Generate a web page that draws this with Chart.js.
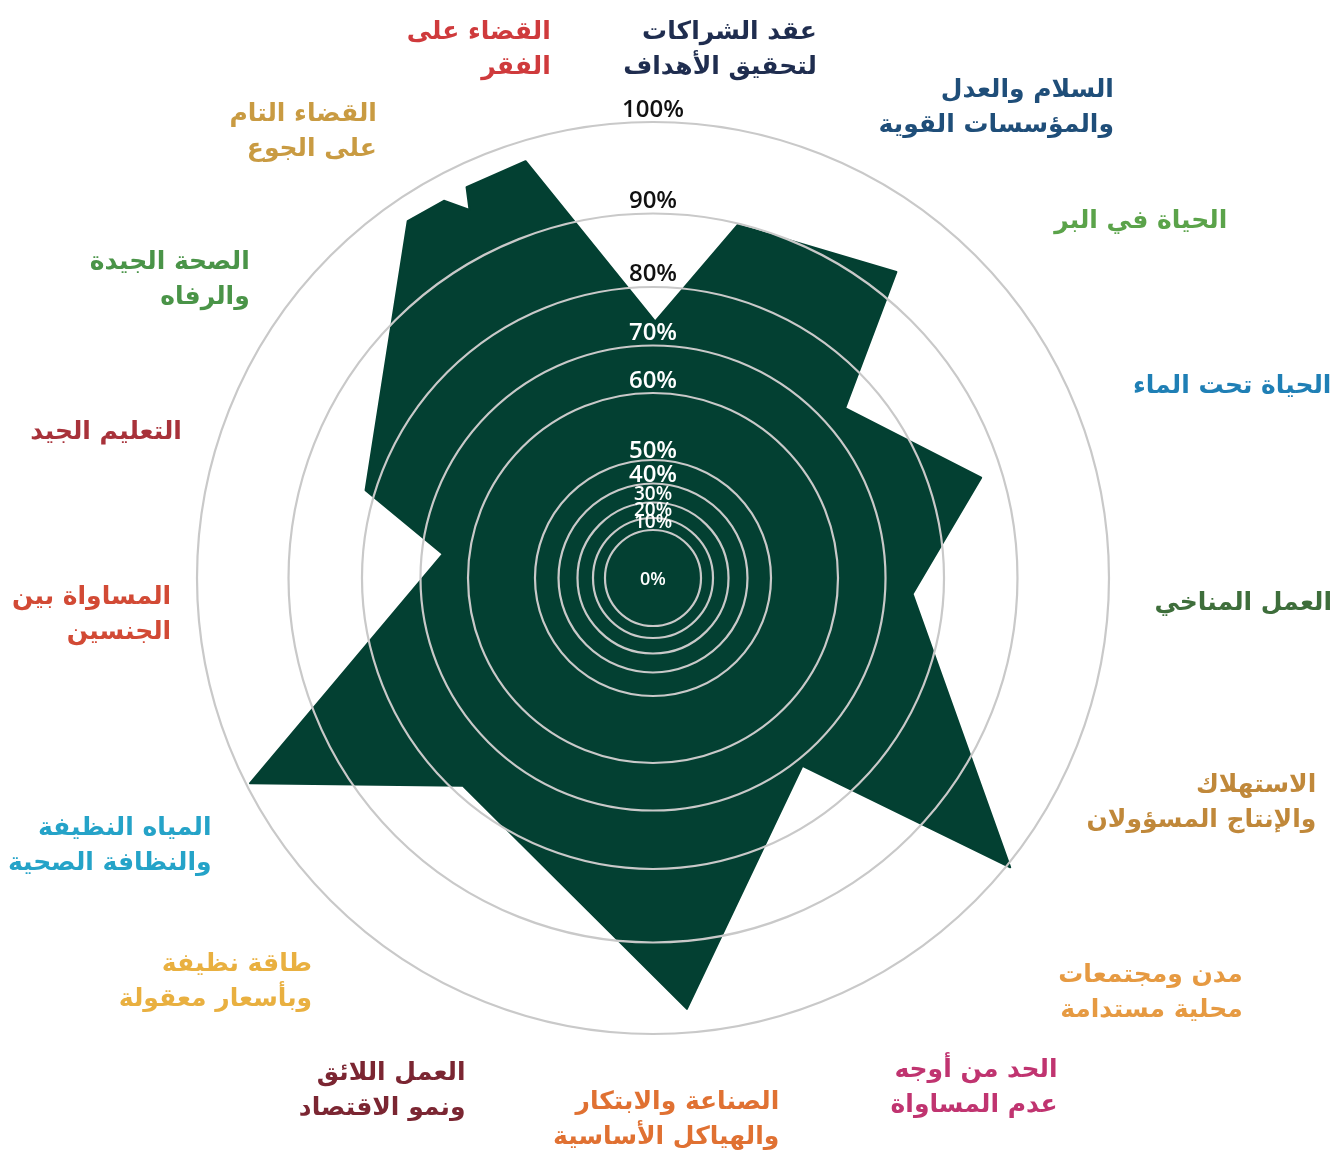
<!DOCTYPE html>
<html lang="ar">
<head>
<meta charset="utf-8">
<script src="https://cdn.jsdelivr.net/npm/chart.js@4.4.1/dist/chart.umd.min.js"></script>
<style>
  html, body { margin: 0; padding: 0; background: #ffffff; }
  #wrap { position: relative; width: 1337px; height: 1154px; }
</style>
</head>
<body>
<div id="wrap"><canvas id="chart"></canvas></div>
<script>
// ---------------- DATA ----------------
// Categories clockwise from the top (SDG 17 ... SDG 1)
const categories = [
  ['عقد الشراكات', 'لتحقيق الأهداف'],
  ['السلام والعدل', 'والمؤسسات القوية'],
  ['الحياة في البر'],
  ['الحياة تحت الماء'],
  ['العمل المناخي'],
  ['الاستهلاك', 'والإنتاج المسؤولان'],
  ['مدن ومجتمعات', 'محلية مستدامة'],
  ['الحد من أوجه', 'عدم المساواة'],
  ['الصناعة والابتكار', 'والهياكل الأساسية'],
  ['العمل اللائق', 'ونمو الاقتصاد'],
  ['طاقة نظيفة', 'وبأسعار معقولة'],
  ['المياه النظيفة', 'والنظافة الصحية'],
  ['المساواة بين', 'الجنسين'],
  ['التعليم الجيد'],
  ['الصحة الجيدة', 'والرفاه'],
  ['القضاء التام', 'على الجوع'],
  ['القضاء على', 'الفقر']
];

// Radial tick values and labels
const tickValues = [0, 10, 20, 30, 40, 50, 60, 70, 80, 90, 100];
const tickLabels = ['0%', '10%', '20%', '30%', '40%', '50%', '60%', '70%', '80%', '90%', '100%'];

// Outline of the shape: angular coordinate (degrees, clockwise from top) and value (%)
const shapeBearings = [0.6, 13.4, 38.5, 48.6, 73.1, 93.5, 129.2, 141.6, 175.7, 222.7, 243.1, 276.7, 287.0, 325.4, 331.0, 333.6, 334.7, 343.1];
const shapeValues   = [74.1, 89.8, 92.9, 74.1, 87.1, 74.7, 100.4, 71.3, 97.4, 78.4, 99.6, 65.6, 81.3, 97.5, 97.3, 95.1, 97.5, 97.8];

// ---------------- STYLE / LAYOUT ----------------
const categoryColors = ['#1f2d4f', '#1f4e79', '#5ba34a', '#1f7fb5', '#3e6e3b', '#c0883a', '#e69a42',
  '#c03470', '#e07132', '#7b2632', '#e9b040', '#25a3c8', '#d24a35', '#a8323a', '#4a9448', '#c99b42', '#cf3a3c'];
// where each category label sits (bearing in degrees, distance in px from centre)
const labelLayout = [
  [7.2, 535], [25.5, 524], [48.1, 539], [67.9, 518], [92.6, 502], [117.1, 487], [135.5, 578],
  [154.9, 560], [178.6, 539], [200.2, 543], [220.4, 526], [239.0, 515], [266.0, 483], [287.5, 494],
  [306.7, 503], [328.4, 527], [349.1, 541]
];
// ring positions as a fraction of the outer radius (non-linear radial axis)
const ringFractions = [0, 0.1053, 0.1316, 0.1656, 0.2072, 0.2588, 0.4057, 0.5099, 0.6382, 0.7993, 1];
const SHAPE_COLOR = '#034032';
const SLOT_COUNT = 720;

// ---------------- BUILD TABLE FOR THE LIBRARY ----------------
const slotLabels = Array.from({ length: SLOT_COUNT }, (_, i) => String(i * 360 / SLOT_COUNT));
const slotData = new Array(SLOT_COUNT).fill(null);
shapeBearings.forEach((b, i) => {
  slotData[Math.round(b / 360 * SLOT_COUNT) % SLOT_COUNT] = shapeValues[i];
});

function valueToFraction(v) {
  const n = tickValues.length;
  for (let i = 1; i < n; i++) {
    if (v <= tickValues[i] || i === n - 1) {
      const t = (v - tickValues[i - 1]) / (tickValues[i] - tickValues[i - 1]);
      return ringFractions[i - 1] + t * (ringFractions[i] - ringFractions[i - 1]);
    }
  }
  return 0;
}
function fractionToValue(f) {
  const n = ringFractions.length;
  for (let i = 1; i < n; i++) {
    if (f <= ringFractions[i] || i === n - 1) {
      const t = (f - ringFractions[i - 1]) / (ringFractions[i] - ringFractions[i - 1]);
      return tickValues[i - 1] + t * (tickValues[i] - tickValues[i - 1]);
    }
  }
  return 0;
}

const H = Chart.helpers;

class RingRadialScale extends Chart.RadialLinearScale {
  buildTicks() {
    this.start = this.min;
    this.end = this.max;
    return tickValues.map(v => ({ value: v }));
  }
  getDistanceFromCenterForValue(value) {
    if (value === null || value === undefined || isNaN(value)) return NaN;
    return this.drawingArea * valueToFraction(value);
  }
  getValueForDistanceFromCenter(distance) {
    return fractionToValue(distance / this.drawingArea);
  }
  drawLabels() {
    const ctx = this.ctx;
    const tickOpts = this.options.ticks;
    ctx.save();
    ctx.translate(this.xCenter, this.yCenter);
    ctx.textAlign = 'center';
    ctx.textBaseline = 'alphabetic';
    this.ticks.forEach((tick, index) => {
      const o = tickOpts.setContext(this.getContext(index));
      const font = H.toFont(o.font);
      ctx.font = font.string;
      ctx.fillStyle = o.color;
      const dist = this.getDistanceFromCenterForValue(tick.value);
      let y;
      if (tick.value === 0) y = 7;
      else y = -(dist + (tick.value >= 60 ? 5.5 : 2));
      ctx.fillText(tick.label, 0, y);
    });
    ctx.restore();
  }
}
RingRadialScale.id = 'ringRadial';
RingRadialScale.defaults = Chart.RadialLinearScale.defaults;
RingRadialScale.defaultRoutes = Chart.RadialLinearScale.defaultRoutes;
RingRadialScale.descriptors = Chart.RadialLinearScale.descriptors;
Chart.register(RingRadialScale);

const categoryLabelPlugin = {
  id: 'categoryLabels',
  afterDraw(chart) {
    const scale = chart.scales.r;
    const ctx = chart.ctx;
    ctx.save();
    ctx.font = '700 25px "DejaVu Sans"';
    ctx.textBaseline = 'middle';
    ctx.textAlign = 'right';
    const lineHeight = 35;
    categories.forEach((lines, i) => {
      const [bearing, dist] = labelLayout[i];
      const a = bearing * Math.PI / 180;
      const px = scale.xCenter + Math.sin(a) * dist;
      const py = scale.yCenter - Math.cos(a) * dist + 3;
      const w = Math.max(...lines.map(l => ctx.measureText(l).width));
      const s = Math.sin(a);
      let right;
      if (Math.abs(s) < 0.15) right = px + w / 2;
      else if (s > 0) right = px + w;
      else right = px;
      ctx.fillStyle = categoryColors[i];
      lines.forEach((l, j) => {
        ctx.fillText(l, right, py + (j - (lines.length - 1) / 2) * lineHeight);
      });
    });
    ctx.restore();
  }
};

new Chart(document.getElementById('chart'), {
  type: 'radar',
  data: {
    labels: slotLabels,
    datasets: [{
      data: slotData,
      backgroundColor: SHAPE_COLOR,
      borderColor: SHAPE_COLOR,
      borderWidth: 2,
      borderJoinStyle: 'round',
      pointRadius: 0,
      pointHoverRadius: 0,
      spanGaps: true,
      fill: 'shape',
      tension: 0
    }]
  },
  options: {
    responsive: true,
    maintainAspectRatio: false,
    animation: false,
    layout: { padding: { left: 197, right: 227, top: 122, bottom: 120 } },
    plugins: {
      legend: { display: false },
      tooltip: { enabled: false }
    },
    scales: {
      r: {
        type: 'ringRadial',
        min: 0,
        max: 100,
        startAngle: 0,
        angleLines: { display: false },
        pointLabels: { display: false },
        grid: { circular: true, color: '#c9c9c9', lineWidth: 2.2, z: 1 },
        ticks: {
          display: false,
          z: 2,
          callback: (v) => tickLabels[tickValues.indexOf(v)],
          color: (c) => (c.tick && c.tick.value >= 80) ? '#111111' : '#ffffff',
          font: (c) => {
            const v = c.tick ? c.tick.value : 50;
            return { family: '"Open Sans"', weight: '600', size: v === 0 ? 18 : (v <= 30 ? 19 : 24) };
          }
        }
      }
    }
  },
  plugins: [categoryLabelPlugin]
});
</script>
</body>
</html>
